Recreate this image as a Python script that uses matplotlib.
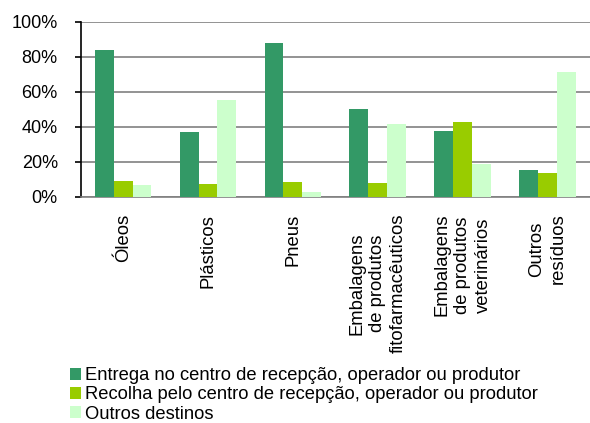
import matplotlib
matplotlib.use("Agg")
import matplotlib.pyplot as plt
import numpy as np
from matplotlib.patches import Patch

plt.rcParams['font.family'] = ['Liberation Sans', 'DejaVu Sans']

categories = ["Óleos", "Plásticos", "Pneus",
              "Embalagens\nde produtos\nfitofarmacêuticos",
              "Embalagens\nde produtos\nveterinários",
              "Outros\nresíduos"]
series_names = ["Entrega no centro de recepção, operador ou produtor",
                "Recolha pelo centro de recepção, operador ou produtor",
                "Outros destinos"]
entrega = [84, 37, 88, 50, 37.5, 15.3]
recolha = [9, 7.2, 8.8, 8, 43, 13.4]
outros = [6.7, 55.4, 2.9, 41.5, 19, 71.4]
yticks = [0, 20, 40, 60, 80, 100]
ytick_labels = ["0%", "20%", "40%", "60%", "80%", "100%"]
colors = ["#339966", "#99CC00", "#CCFFCC"]

fig = plt.figure(figsize=(5.90, 4.23), dpi=100)
ax = fig.add_axes([0.1368, 0.5343, 0.863, 0.4147])

x = np.arange(len(categories))
w = 0.222
for i, (vals, c) in enumerate(zip([entrega, recolha, outros], colors)):
    ax.bar(x + (i - 1) * w, vals, width=w, color=c, edgecolor='none', zorder=3)

ax.set_xlim(-0.5, len(categories) - 0.5)
ax.set_ylim(0, 100)
ax.set_yticks(yticks)
ax.set_yticklabels(ytick_labels, fontsize=13)
ax.yaxis.grid(True, color='#808080', linewidth=1.2, zorder=0)
ax.set_axisbelow(True)
for s in ['top', 'right']:
    ax.spines[s].set_visible(False)
ax.spines['left'].set_color('black')
ax.spines['left'].set_linewidth(1.2)
ax.spines['bottom'].set_color('#808080')
ax.spines['bottom'].set_linewidth(1.2)
ax.tick_params(axis='y', length=4.5, width=1.2, color='black', pad=12)
ax.set_xticks(x)
ax.set_xticklabels(categories, rotation=90, fontsize=13.3, ha='center', va='top',
                   multialignment='center', linespacing=1.3)
ax.tick_params(axis='x', length=0, pad=12)

handles = [Patch(facecolor=c, edgecolor='none') for c in colors]
fig.legend(handles, series_names, loc='upper left', bbox_to_anchor=(0.118, 0.132),
           frameon=False, fontsize=13.2, handlelength=0.6, handleheight=0.6,
           handletextpad=0.25, labelspacing=0.12, borderaxespad=0, borderpad=0)

fig.savefig("out.png", dpi=100)
